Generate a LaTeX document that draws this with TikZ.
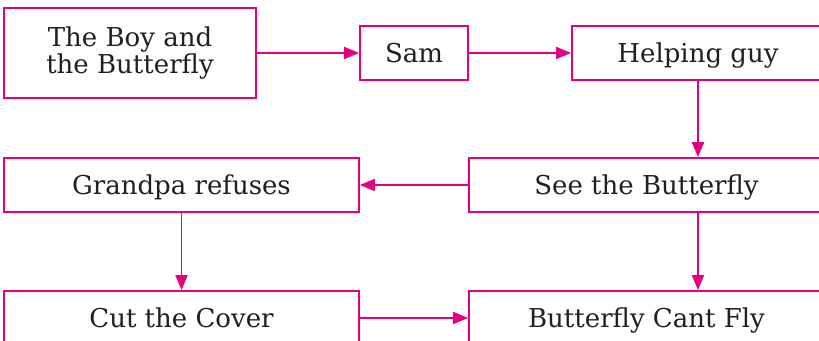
\documentclass[tikz,border=0pt]{standalone}
\usepackage{fontspec}
\setmainfont{DejaVu Serif}
\usetikzlibrary{arrows.meta}
\definecolor{flowpink}{RGB}{230,0,126}
\definecolor{storyink}{RGB}{35,31,32}
\tikzset{
  storybox/.style={draw=flowpink, line width=1.3, inner sep=0pt, text=storyink,
    font=\fontsize{19.5}{18.75}\selectfont, align=center},
  linebox/.style={storybox, text height=14.2pt, text depth=0pt},
  storyarrow/.style={draw=flowpink, line width=1.3, -{Triangle[length=11.25pt,width=9pt]}}
}

\begin{document}
\begin{tikzpicture}[x=0.75pt,y=0.75pt,yscale=-1,xscale=1]
%set diagram left start at 0, and has height of 341
\useasboundingbox[fill=white] (0,0) rectangle (819,341);

%Shape: Rectangle
\node (boy) [storybox, minimum width=189pt, minimum height=67.5pt] at (130,53) {The Boy and\\the Butterfly};
%Shape: Rectangle
\node (sam) [linebox, minimum width=81pt, minimum height=40.5pt] at (414,53) {Sam};
%Shape: Rectangle
\node (helping) [linebox, minimum width=189pt, minimum height=40.5pt] at (698,53) {Helping guy};
%Shape: Rectangle
\node (grandpa) [linebox, minimum width=266.25pt, minimum height=40.5pt] at (181.5,185) {Grandpa refuses};
%Shape: Rectangle
\node (see) [linebox, minimum width=266.25pt, minimum height=40.5pt] at (646.5,185) {See the Butterfly};
%Shape: Rectangle
\node (cut) [linebox, minimum width=266.25pt, minimum height=40.5pt] at (181.5,318) {Cut the Cover};
%Shape: Rectangle
\node (cant) [linebox, minimum width=266.25pt, minimum height=40.5pt] at (646.5,318) {Butterfly Cant Fly};

%Straight Lines
\draw [storyarrow] (boy) -- (sam);
\draw [storyarrow] (sam) -- (helping);
\draw [storyarrow] (helping.south) -- (helping.south |- see.north);
\draw [storyarrow] (see) -- (grandpa);
\draw [storyarrow] (grandpa) -- (cut);
\draw [storyarrow] (helping.south |- see.south) -- (helping.south |- cant.north);
\draw [storyarrow] (cut) -- (cant);

\end{tikzpicture}
\end{document}
